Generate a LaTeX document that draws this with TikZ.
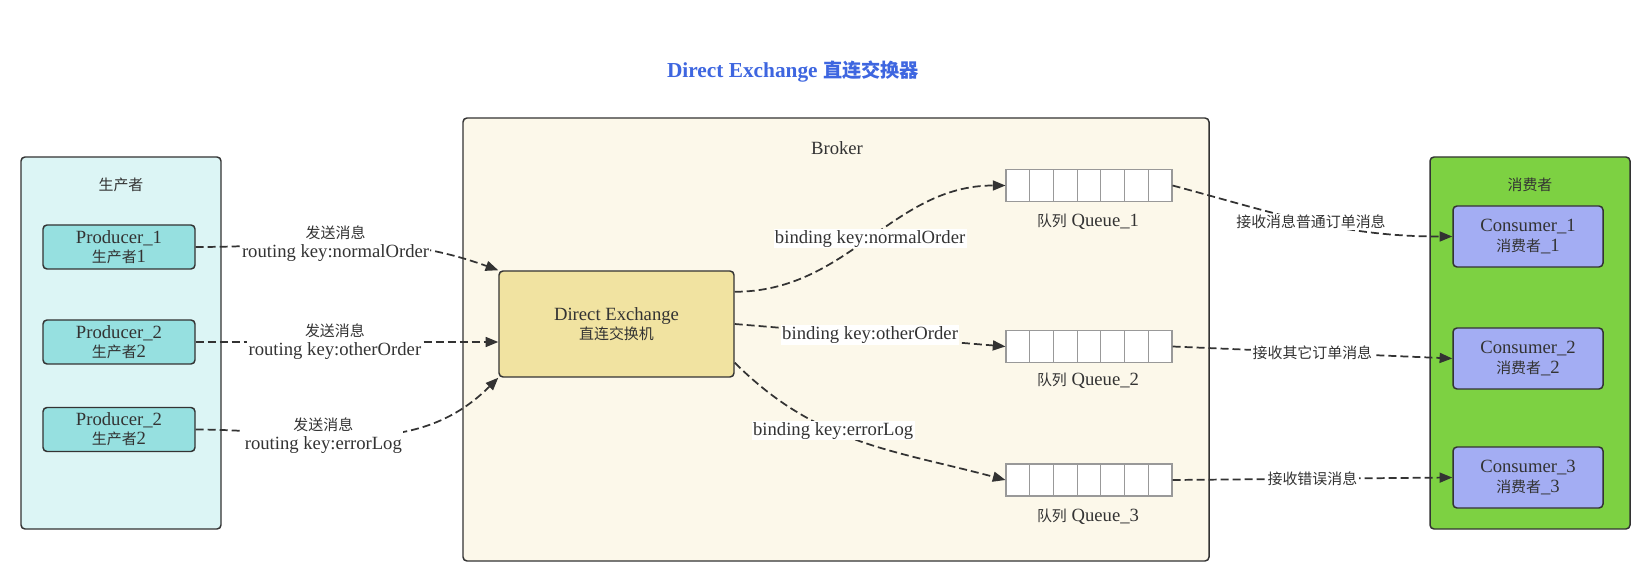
\documentclass[tikz,border=0pt]{standalone}
\usepackage{fontspec}
\setmainfont{Liberation Serif}
\newfontfamily\cjk[Scale=0.8]{Noto Sans CJK SC}
\newfontfamily\cjktitle[Scale=0.9]{Noto Sans CJK SC}
\usepackage{tikz}
\usetikzlibrary{arrows.meta}
\usetikzlibrary{positioning}
\usetikzlibrary{calc}
\definecolor{ink}{HTML}{333333}
\definecolor{prodbg}{HTML}{DCF5F5}
\definecolor{prodnode}{HTML}{96E0E0}
\definecolor{brokerbg}{HTML}{FCF8EA}
\definecolor{exchbg}{HTML}{F1E3A1}
\definecolor{consbg}{HTML}{7DD142}
\definecolor{consnode}{HTML}{A3ADF3}
\definecolor{titleblue}{HTML}{3E66E0}
\definecolor{qgray}{HTML}{999999}
\tikzstyle{group}=[draw=ink,line width=1.1pt,rounded corners=3pt,minimum width=150pt,inner sep=0]
\tikzstyle{grouptitle}=[text=ink,inner sep=1pt,font=\fontsize{14}{15}\selectfont]
\tikzstyle{actor}=[draw=ink,line width=1.1pt,rounded corners=3pt,align=center,text=ink,
  inner sep=0,font=\fontsize{14}{14.5}\selectfont]
\tikzstyle{queue}=[draw=qgray,fill=white,line width=0.8pt,minimum width=124.5pt,minimum height=24pt,inner sep=0,
  path picture={\foreach \k in {1,...,6}
    \draw[qgray,line width=0.8pt] ($(path picture bounding box.south west)!\k/7!(path picture bounding box.south east)$)
      -- ($(path picture bounding box.north west)!\k/7!(path picture bounding box.north east)$);}]
\tikzstyle{qlabel}=[text=ink,inner sep=1pt,font=\fontsize{14}{15}\selectfont]
\tikzstyle{lbl}=[fill=white,text=ink,align=center,inner sep=1pt,font=\fontsize{14}{14.5}\selectfont]
\tikzstyle{link}=[ink,line width=1.3pt,dash pattern=on 6pt off 3pt,>={Triangle[length=9.5pt,width=7.5pt]}]

\begin{document}
\begin{tikzpicture}[x=0.75pt,y=0.75pt]
	\useasboundingbox[fill=white] (0,0) rectangle (1651,-580);
	\node[text=titleblue,font=\fontsize{16}{18}\selectfont\bfseries] (title) at (793,-72)
	{Direct Exchange {\cjktitle 直连交换器}};
	
	\node[group,fill=prodbg,minimum height=279pt] (producers) at (121,-343) {};
	\node[group,fill=brokerbg,minimum width=559.5pt,minimum height=332.25pt] (broker) at (836,-339.5) {};
	\node[group,fill=consbg,minimum height=279pt] (consumers) at (1530,-343) {};
	\node[grouptitle] (prodtitle) at (121,-185) {\cjk 生产者};
	\node[grouptitle] (brokertitle) at (837,-148) {Broker};
	\node[grouptitle] (constitle) at (1530,-185) {\cjk 消费者};
	
	\node[actor,fill=prodnode,minimum width=114pt,minimum height=33pt] (p1) at (119,-247) {Producer\_1\\{\cjk 生产者}1};
	\node[actor,fill=prodnode,minimum width=114pt,minimum height=33pt] (p2) at (119,-342) {Producer\_2\\{\cjk 生产者}2};
	\node[actor,fill=prodnode,minimum width=114pt,minimum height=33pt] (p3) at (119,-429.5) {Producer\_2\\{\cjk 生产者}2};
	
	\node[actor,fill=exchbg,minimum width=176.25pt,minimum height=79.5pt] (ex) at (616.5,-324) {Direct Exchange\\{\cjk 直连交换机}};
	
	\node[queue] (q1) at (1089,-185.5) {};
	\node[queue] (q2) at (1089,-346.5) {};
	\node[queue] (q3) at (1089,-480) {};
	\node[qlabel] (q1l) at (1088,-222) {{\cjk 队列} Queue\_1};
	\node[qlabel] (q2l) at (1088,-381) {{\cjk 队列} Queue\_2};
	\node[qlabel] (q3l) at (1088,-517) {{\cjk 队列} Queue\_3};
	
	\node[actor,fill=consnode,minimum width=112.5pt,minimum height=45.75pt] (c1) at (1528,-236.5) {Consumer\_1\\{\cjk 消费者}\_1};
	\node[actor,fill=consnode,minimum width=112.5pt,minimum height=45.75pt] (c2) at (1528,-358.5) {Consumer\_2\\{\cjk 消费者}\_2};
	\node[actor,fill=consnode,minimum width=112.5pt,minimum height=45.75pt] (c3) at (1528,-477.5) {Consumer\_3\\{\cjk 消费者}\_3};
	
	\coordinate (exa) at ($(ex.north east)!0.2!(ex.south east)$);
	\coordinate (exc) at ($(ex.north east)!0.86!(ex.south east)$);
	
	\path[link,->] (p1) edge [out=0,in=160] 
	node [lbl,pos=0.45] {{\cjk 发送消息}\\routing key:normalOrder} (ex.north west);
	\path[link,->] (p2) edge [] 
	node [lbl,pos=0.46] {{\cjk 发送消息}\\routing key:otherOrder} (p2 -| ex.west);
	\path[link,->] (p3) edge [out=0,in=225] 
	node [lbl,pos=0.38] {{\cjk 发送消息}\\routing key:errorLog} (ex.south west);
	
	\path[link,->] (exa) edge [out=0,in=180] 
	node [lbl,midway] {binding key:normalOrder} (q1.west);
	\path[link,->] (ex.east) edge [] 
	node [lbl,midway] {binding key:otherOrder} (q2.west);
	\path[link,->] (exc) edge [out=-45,in=165] 
	node [lbl,pos=0.4] {binding key:errorLog} (q3.west);
	
	\path[link,->] (q1.east) edge [out=-15,in=180] 
	node [lbl,midway] {\cjk 接收消息普通订单消息} (c1.west);
	\path[link,->] (q2.east) edge [] 
	node [lbl,midway] {\cjk 接收其它订单消息} (c2.west);
	\path[link,->] (q3.east) edge [] 
	node [lbl,midway] {\cjk 接收错误消息} (c3.west);
\end{tikzpicture}
\end{document}
